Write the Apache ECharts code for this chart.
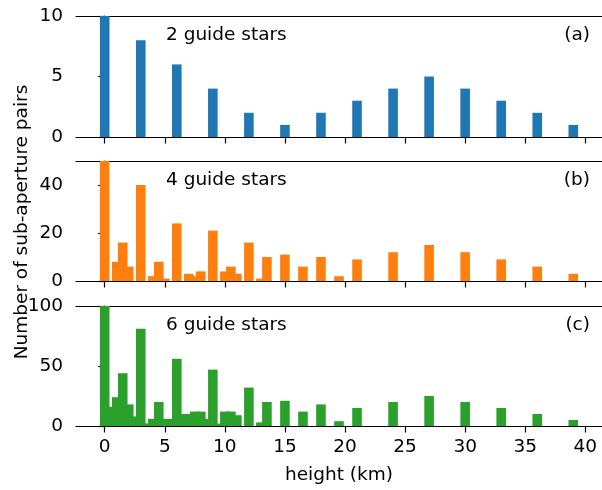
<!DOCTYPE html>
<html lang="en">
<head>
<meta charset="UTF-8">
<title>sub-aperture pairs</title>
<script src="https://cdn.jsdelivr.net/npm/echarts@6/dist/echarts.min.js"></script>
<style>
  html, body { margin: 0; padding: 0; background: #fff; }
  #main { width: 602px; height: 490px; }
</style>
</head>
<body>
<div id="main"></div>
<script>
// heights (km) and number of sub-aperture pairs for each guide-star case
var heights2 = [0, 3, 6, 9, 12, 15, 18, 21, 24, 27, 30, 33, 36, 39];
var counts2 = [10, 8, 6, 4, 2, 1, 2, 3, 4, 5, 4, 3, 2, 1];

var heights4 = [0, 1, 1.5, 2, 3, 4, 4.5, 5, 6, 7, 7.5, 8, 9, 10, 10.5, 11, 12, 13, 13.5,
                15, 16.5, 18, 19.5, 21, 24, 27, 30, 33, 36, 39];
var counts4 = [60, 8, 16, 6, 40, 2, 8, 1, 24, 3, 2, 4, 21, 4, 6, 3, 16, 1, 10,
               11, 6, 10, 2, 9, 12, 15, 12, 9, 6, 3];

var heights6 = [0, 0.6, 0.75, 1, 1.2, 1.5, 1.8, 2, 2.25, 2.4, 3, 3.6, 3.75, 4, 4.2, 4.5,
                4.8, 5, 5.25, 5.4, 6, 6.6, 6.75, 7, 7.2, 7.5, 7.8, 8, 8.25, 9, 9.75, 10,
                10.5, 11, 12, 13, 13.5, 15, 16.5, 18, 19.5, 21, 24, 27, 30, 33, 36, 39];
var counts6 = [150, 8, 16, 24, 6, 44, 4, 18, 8, 2, 81, 2, 2, 6, 3, 20,
               4, 3, 6, 5, 56, 3, 10, 9, 2, 12, 1, 12, 6, 47, 2, 12,
               12, 9, 32, 3, 20, 21, 12, 18, 4, 15, 20, 25, 20, 15, 10, 5];

var xTicks = [0, 5, 10, 15, 20, 25, 30, 35, 40];
var yTicks = [[0, 5, 10], [0, 20, 40], [0, 50, 100]];
var yMax = [10, 50, 100];
var labels = ['2 guide stars', '4 guide stars', '6 guide stars'];
var tags = ['(a)', '(b)', '(c)'];
var colors = ['#1f77b4', '#ff7f0e', '#2ca02c'];

var FONT = 'DejaVu Sans';
var FS = 18.5;
var gridTops = [16, 161, 306];
var gridH = [121, 120, 120];

var myChart = echarts.init(document.getElementById('main'));

function pairs(xs, ys) {
    return xs.map(function (x, i) { return [x, ys[i]]; });
}
var allData = [pairs(heights2, counts2), pairs(heights4, counts4), pairs(heights6, counts6)];

var grids = [], xAxes = [], yAxes = [], series = [], graphics = [];
for (var i = 0; i < 3; i++) {
    grids.push({ left: 76, width: 528, top: gridTops[i], height: gridH[i], containLabel: false });
    xAxes.push({
        type: 'value', gridIndex: i, min: -2.39, max: 41.39,
        splitLine: { show: false },
        axisLine: { onZero: false, lineStyle: { color: '#000', width: 1.2 } },
        axisTick: { show: true, length: 6.5, customValues: xTicks, lineStyle: { color: '#000', width: 1.2 } },
        axisLabel: {
            show: i === 2, customValues: xTicks, margin: 12,
            color: '#000', fontFamily: FONT, fontSize: FS
        },
        name: i === 2 ? 'height (km)' : '',
        nameLocation: 'middle', nameGap: 40,
        nameTextStyle: { color: '#000', fontFamily: FONT, fontSize: FS }
    });
    yAxes.push({
        type: 'value', gridIndex: i, min: 0, max: yMax[i],
        splitLine: { show: false },
        axisLine: { show: true, lineStyle: { color: '#000', width: 1.2 } },
        axisTick: { show: true, length: 6.5, customValues: yTicks[i], lineStyle: { color: '#000', width: 1.2 } },
        axisLabel: {
            customValues: yTicks[i], margin: 13,
            color: '#000', fontFamily: FONT, fontSize: FS
        }
    });
    series.push({
        type: 'bar', xAxisIndex: i, yAxisIndex: i,
        data: allData[i], barWidth: 9.6, clip: true,
        itemStyle: { color: colors[i] }, silent: true
    });
    graphics.push({
        type: 'text', left: 166, top: gridTops[i] + 10,
        style: { text: labels[i], fill: '#000', font: FS + 'px "' + FONT + '"' }
    });
    graphics.push({
        type: 'text', right: 12, top: gridTops[i] + 10,
        style: { text: tags[i], fill: '#000', font: FS + 'px "' + FONT + '"' }
    });
}
// top spines: one plain axis line per panel
for (var j = 0; j < 3; j++) {
    xAxes.push({
        type: 'value', gridIndex: j, position: 'top', min: -2.39, max: 41.39,
        axisLine: { show: true, onZero: false, lineStyle: { color: '#000', width: 1.2 } },
        axisTick: { show: false }, axisLabel: { show: false }, splitLine: { show: false }
    });
}

graphics.push({
    type: 'text', x: 22, y: 222, rotation: Math.PI / 2,
    style: {
        text: 'Number of sub-aperture pairs', fill: '#000',
        font: FS + 'px "' + FONT + '"', align: 'center', verticalAlign: 'middle'
    }
});

var option = {
    animation: false,
    backgroundColor: '#fff',
    grid: grids,
    xAxis: xAxes,
    yAxis: yAxes,
    series: series,
    graphic: graphics
};

myChart.setOption(option);
</script>
</body>
</html>
